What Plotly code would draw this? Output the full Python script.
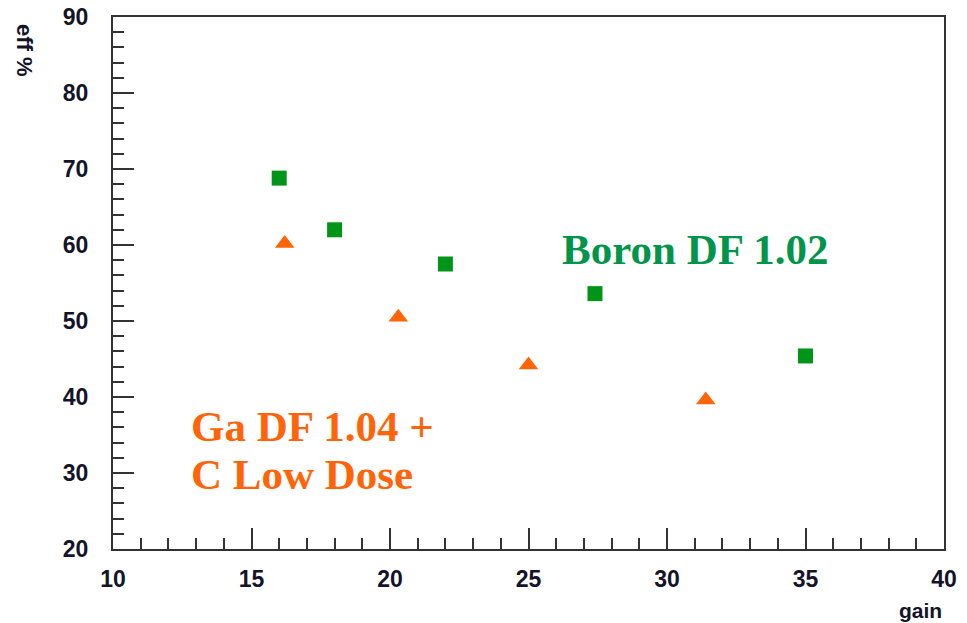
import plotly.graph_objects as go

# Boron DF 1.02 series
boron_gain = [16.0, 18.0, 22.0, 27.4, 35.0]
boron_eff = [68.8, 62.0, 57.5, 53.6, 45.4]

# Ga DF 1.04 + C Low Dose series
ga_gain = [16.2, 20.3, 25.0, 31.4]
ga_eff = [60.2, 50.5, 44.2, 39.6]

MARKER_GREEN = "#009418"
TEXT_GREEN = "#00954a"
ORANGE = "#ff6408"
LABEL_COLOR = "#141428"
SANS = "Liberation Sans, Arial, sans-serif"
SERIF = "Liberation Serif, Times New Roman, serif"
TICKFONT = dict(family=SANS, size=23, color=LABEL_COLOR, weight="bold")

fig = go.Figure()
fig.add_trace(go.Scatter(
    x=boron_gain, y=boron_eff, mode="markers",
    marker=dict(symbol="square", size=15, color=MARKER_GREEN),
    showlegend=False,
))
fig.add_trace(go.Scatter(
    x=ga_gain, y=ga_eff, mode="markers",
    marker=dict(symbol="triangle-up", size=17, color=ORANGE),
    showlegend=False,
))

axis_common = dict(
    showline=True, linecolor="#333333", linewidth=2, mirror=True,
    showgrid=False, zeroline=False, automargin=False,
    ticks="inside", ticklen=21, tickwidth=1.5, tickcolor="#333333",
    tickfont=TICKFONT,
)

fig.update_xaxes(
    range=[10, 40], dtick=5, tick0=10,
    minor=dict(ticks="inside", ticklen=11, dtick=1, tickcolor="#333333", tickwidth=1.5),
    ticklabelstandoff=8,
    **axis_common,
)
fig.update_yaxes(
    range=[20, 90], dtick=10, tick0=20,
    minor=dict(ticks="inside", ticklen=11, dtick=2, tickcolor="#333333", tickwidth=1.5),
    ticklabelstandoff=18,
    **axis_common,
)

# Series labels inside the plot area
fig.add_annotation(
    text="<b>Boron DF 1.02</b>", x=26.15, y=59.4, xref="x", yref="y",
    xanchor="left", yanchor="middle", showarrow=False,
    font=dict(family=SERIF, size=43, color=TEXT_GREEN),
)
fig.add_annotation(
    text="<b>Ga DF 1.04 +</b>", x=12.76, y=36.1, xref="x", yref="y",
    xanchor="left", yanchor="middle", showarrow=False,
    font=dict(family=SERIF, size=43, color=ORANGE),
)
fig.add_annotation(
    text="<b>C Low Dose</b>", x=12.76, y=29.8, xref="x", yref="y",
    xanchor="left", yanchor="middle", showarrow=False,
    font=dict(family=SERIF, size=43, color=ORANGE),
)

# Axis titles
fig.add_annotation(
    text="<b>gain</b>", x=1.0, y=-0.115, xref="paper", yref="paper",
    xanchor="right", yanchor="middle", showarrow=False,
    font=dict(family=SANS, size=21, color=LABEL_COLOR),
)
fig.add_annotation(
    text="<b>eff %</b>", x=-0.107, y=0.938, xref="paper", yref="paper",
    xanchor="center", yanchor="middle", textangle=90, showarrow=False,
    font=dict(family=SANS, size=22, color=LABEL_COLOR),
)

fig.update_layout(
    width=967, height=623,
    margin=dict(l=113, r=23, t=17, b=74, autoexpand=False),
    paper_bgcolor="white", plot_bgcolor="white",
)

fig.write_html("out.html")
